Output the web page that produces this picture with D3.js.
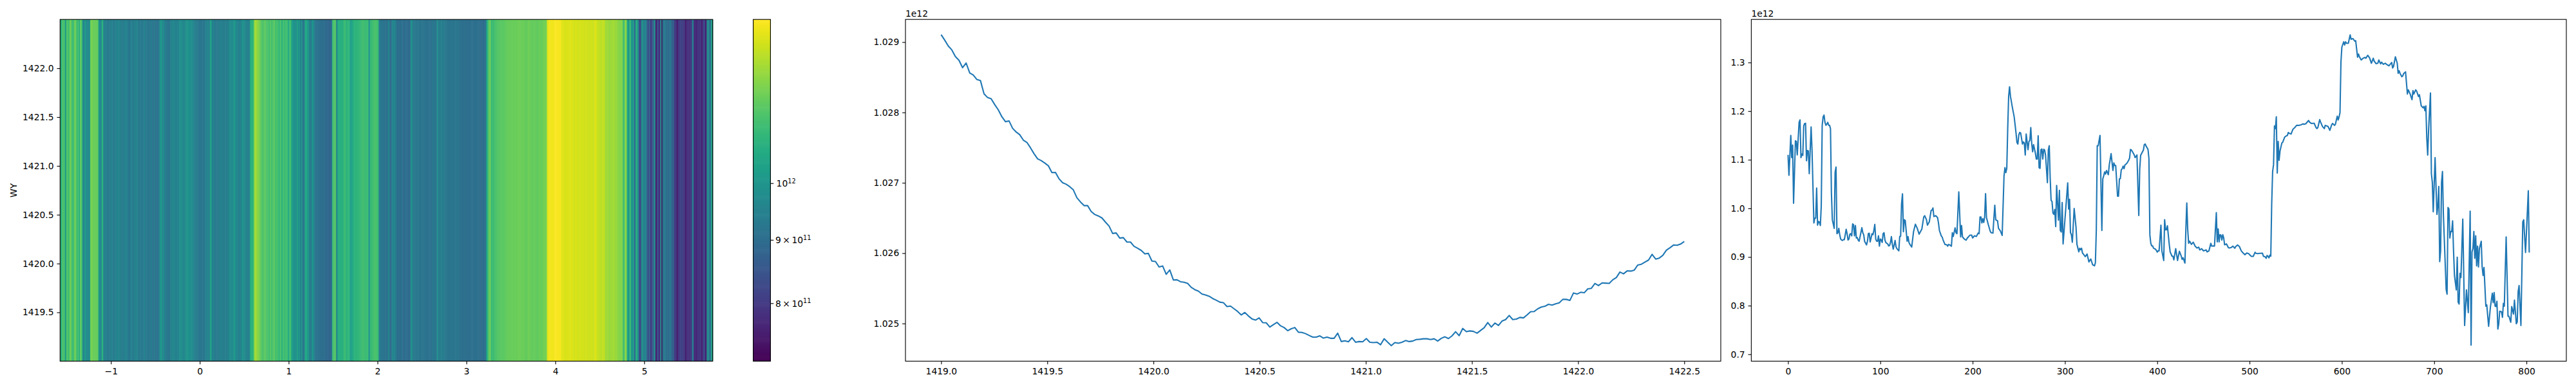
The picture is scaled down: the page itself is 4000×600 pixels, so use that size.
<!DOCTYPE html>
<html><head><meta charset="utf-8">
<script src="https://cdn.jsdelivr.net/npm/d3@7"></script>
<style>
html,body{margin:0;padding:0;background:#fff;}
svg{display:block;}
text{font-family:"DejaVu Sans";font-size:13.89px;fill:#000;}
</style></head><body>
<script>
// values of the narrow series, in units of 1e12
const smoothValues = [
1.029105,1.029028,1.028944,1.028888,1.028793,1.028741,1.028636,1.028702,1.028562,1.028531,1.028468,1.028454,1.028265,1.028212,1.028195,1.028111,1.028037,1.027939,1.027869,1.027880,
1.027775,1.027722,1.027684,1.027607,1.027575,1.027498,1.027414,1.027341,1.027316,1.027281,1.027243,1.027145,1.027148,1.027057,1.027001,1.026980,1.026945,1.026900,1.026788,1.026728,
1.026676,1.026676,1.026592,1.026550,1.026529,1.026501,1.026441,1.026385,1.026280,1.026287,1.026214,1.026221,1.026158,1.026158,1.026098,1.026070,1.026039,1.025990,1.025997,1.025888,
1.025881,1.025804,1.025818,1.025699,1.025762,1.025619,1.025622,1.025594,1.025587,1.025570,1.025514,1.025482,1.025461,1.025419,1.025405,1.025388,1.025356,1.025332,1.025304,1.025297,
1.025241,1.025248,1.025209,1.025171,1.025122,1.025157,1.025108,1.025066,1.025049,1.025080,1.025013,1.025010,1.024950,1.024985,1.025017,1.024968,1.024943,1.024898,
1.024926,1.024943,1.024877,1.024873,1.024856,1.024831,1.024807,1.024807,1.024825,1.024793,1.024807,1.024790,1.024790,1.024863,1.024744,1.024755,1.024741,1.024800,1.024734,1.024744,
1.024741,1.024786,1.024734,1.024730,1.024734,1.024699,1.024783,1.024734,1.024685,1.024730,1.024720,1.024734,1.024758,1.024744,1.024751,1.024772,1.024776,1.024783,1.024783,1.024772,
1.024783,1.024751,1.024790,1.024811,1.024786,1.024825,1.024884,1.024828,1.024930,1.024884,1.024895,1.024888,1.024863,1.024902,1.024940,1.025013,1.024950,1.025006,1.024972,1.025035,
1.025056,1.025115,1.025056,1.025063,1.025087,1.025080,1.025122,1.025168,1.025171,1.025209,1.025234,1.025245,1.025273,1.025262,1.025280,1.025294,1.025343,1.025343,1.025329,1.025434,
1.025419,1.025444,1.025437,1.025493,1.025500,1.025570,1.025539,1.025577,1.025574,1.025570,1.025622,1.025654,1.025731,1.025706,1.025748,1.025745,1.025759,1.025832,1.025843,1.025874,
1.025902,1.025983,1.025916,1.025930,1.025969,1.026042,1.026077,1.026116,1.026112,1.026130,1.026165];
const smoothStart = 1419, smoothEnd = 1422.5;

// [sample index, value in units of 1e12] vertices read from the wide series
const wavePoints = [
[0,1.110],[1,1.068],[3,1.150],[4,1.1045],[5,1.130],[6,1.0106],[8,1.139],[9,1.1376],[10,1.110],[12,1.177],[13,1.182],[14,1.1045],[15,1.112],[16,1.109],[17,1.1693],[18,1.1746],[19,1.175],[20,1.098],[21,1.119],[22,1.118],[23,1.0714],[25,1.1676],[26,1.120],[28,0.970],[29,0.980],[30,0.980],[31,1.042],[32,0.9656],[33,0.973],[34,0.972],[35,0.9647],[36,1.005],[37,1.1706],[38,1.188],[39,1.1918],[40,1.177],[41,1.171],[42,1.173],[43,1.177],[44,1.171],[45,1.171],[46,1.164],[47,1.032],[48,0.9766],[49,0.968],[50,0.959],[51,1.074],[52,1.085],[53,0.948],[54,0.950],[55,0.959],[56,0.946],[57,0.937],[58,0.935],[59,0.934],[60,0.9357],[61,0.9357],[62,0.946],[63,0.957],[64,0.948],[65,0.935],[66,0.937],[67,0.947],[68,0.948],[69,0.9436],[70,0.968],[71,0.9665],[72,0.9436],[73,0.9647],[74,0.9392],[75,0.940],[76,0.935],[77,0.9325],[78,0.9415],[80,0.9603],[81,0.950],[82,0.9458],[83,0.932],[85,0.925],[86,0.932],[87,0.948],[88,0.949],[89,0.931],[91,0.948],[92,0.9458],[93,0.9546],[94,0.967],[95,0.937],[96,0.9325],[97,0.9325],[98,0.9436],[99,0.9224],[100,0.937],[101,0.935],[102,0.930],[103,0.948],[104,0.950],[105,0.935],[106,0.9295],[107,0.9282],[108,0.927],[109,0.9228],[110,0.9237],[111,0.930],[112,0.942],[113,0.926],[114,0.9162],[116,0.934],[117,0.921],[118,0.917],[120,0.9127],[121,0.942],[122,0.943],[123,1.0097],[124,1.030],[125,0.952],[126,0.9766],[127,0.975],[129,0.9325],[130,0.942],[131,0.930],[132,0.926],[134,0.9206],
[136,0.9524],[138,0.9674],[140,0.959],[142,0.947],[145,0.9577],[147,0.9823],[148,0.985],[150,0.9766],[151,0.9656],[153,0.972],[155,0.9956],[156,0.9965],[157,1.0009],[158,0.9833],[160,0.985],[162,0.981],[163,0.970],[164,0.9546],[166,0.9436],[167,0.941],[168,0.935],[170,0.9259],[172,0.925],[173,0.9224],[174,0.9259],[175,0.925],[177,0.9224],[178,0.950],[179,0.9422],[181,0.960],[182,0.950],[183,0.948],[185,1.034],[187,0.9414],[188,0.9647],[189,0.9414],[191,0.937],[193,0.9347],[194,0.9383],[197,0.9449],[199,0.9449],[200,0.9392],[202,0.9436],[204,0.9422],[206,0.9493],[207,0.948],[208,0.9824],[209,0.9824],[210,0.970],[211,0.9788],[212,0.971],[213,0.982],[214,1.0304],[215,0.981],[217,0.9665],[219,0.9533],[220,0.950],[222,0.9493],[223,0.9788],[224,1.0066],[225,0.9766],[227,0.9744],[228,0.959],[230,0.9537],[232,0.9444],[234,1.067],[235,1.0838],[236,1.0736],[237,1.0825],[238,1.164],[239,1.2302],[240,1.250],[241,1.2302],[243,1.2081],[245,1.1883],[247,1.1552],[248,1.1354],[249,1.1323],[250,1.1508],[251,1.1561],[252,1.1552],[254,1.1323],[255,1.1367],[256,1.134],[257,1.1098],[258,1.153],[260,1.1208],[261,1.1376],[262,1.1398],[263,1.1662],[264,1.1332],[265,1.1164],[266,1.131],[268,1.1133],[269,1.1014],[270,1.1014],
[271,1.1495],[272,1.0838],[273,1.0825],[274,1.1209],[275,1.1222],[276,1.1015],[277,1.1217],[278,1.120],[279,1.109],[281,1.053],[282,1.120],[283,1.1288],[284,1.0626],[285,1.0164],[286,1.0142],[287,0.9908],[288,0.9877],[289,0.9978],[290,0.9626],[291,1.0472],[293,0.9758],[294,1.0371],[295,0.9546],[296,0.9515],[297,1.012],[298,0.9268],[303,1.0525],[304,0.9987],[305,1.0186],[306,0.9502],[307,0.9458],[308,0.9304],[310,0.9999],[312,0.9612],[313,0.926],[315,0.9105],[316,0.918],[317,0.915],[318,0.918],[319,0.9083],[322,0.9008],[324,0.9061],[326,0.8898],[328,0.896],[330,0.8841],[332,0.8819],[333,0.8885],[334,0.9568],[335,1.1288],[336,1.1288],[338,1.150],[340,0.9546],[341,1.0604],[342,1.067],[343,1.075],[344,1.0706],[345,1.078],[347,1.0693],[348,1.0891],[350,1.1125],[352,1.0781],[353,1.0935],[354,1.0882],[355,1.0882],[357,1.0252],[358,1.0252],[359,1.0604],[360,1.0613],[361,1.079],[362,1.0816],[363,1.0869],[364,1.0816],[365,1.0891],[367,1.0926],[369,1.0988],[370,1.1032],[371,1.1213],[372,1.120],[373,1.1169],[375,1.1103],[376,1.1045],[377,1.1067],[378,1.1098],[380,0.9855],[381,1.0803],[382,1.109],[385,1.120],[386,1.1314],[387,1.1323],[388,1.1279],[390,1.1213],[391,1.1023],[392,0.9458],[393,0.9282],[394,0.9229],[395,0.9229],[396,0.918],[398,0.9163],[399,0.9136],[400,0.9101],[401,0.9127],[402,0.9127],[404,0.9656],[405,0.9127],[407,0.8929],[408,0.9767],[409,0.956],[410,0.956],[411,0.9643],[413,0.926],[414,0.9105],[416,0.9017],[417,0.9017],[418,0.8942],[420,0.9172],[422,0.8929],[424,0.9119],[426,0.9017],[427,0.8951],[428,0.8986],[430,0.8876],[431,0.9568],[432,1.011],[433,0.9568],[434,0.9282],[435,0.9326],[437,0.926],[439,0.9304],[441,0.9224],[443,0.9185],[445,0.9202],[446,0.9145],[448,0.9172],[450,0.9127],[453,0.9145],[454,0.9105],[456,0.9127],[458,0.9282],[459,0.9224],[461,0.9229],[462,0.9224],[464,0.9912],[465,0.9313],[466,0.9577],[467,0.9313],[468,0.9458],[469,0.945],[470,0.9348],[471,0.9458],[472,0.9392],[473,0.9251],[475,0.9269],[477,0.9194],[478,0.9185],[480,0.9194],[482,0.9224],[484,0.918],[485,0.9215],[487,0.9246],[489,0.9215],[491,0.9127],[493,0.9083],[495,0.9048],[497,0.9083],[499,0.907],[501,0.9031],[502,0.9013],[504,0.9013],[506,0.9097],[507,0.9075],[509,0.907],[511,0.9075],[512,0.9075],[514,0.908],[515,0.9017],[517,0.9004],[518,0.8973],[519,0.9031],[520,0.9017],[521,0.8982],[522,0.904],[523,0.9017],[524,1.0097],[525,1.0759],[526,1.090],[527,1.1694],[528,1.1641],[529,1.1883],[530,1.0728],[531,1.1376],[532,1.0988],[533,1.1178],[535,1.1345],[536,1.1363],[538,1.1464],[539,1.1482],[541,1.150],[542,1.1561],[543,1.1544],[545,1.153],[547,1.1627],[549,1.1663],[551,1.1707],[553,1.1707],[556,1.172],[558,1.1738],[559,1.1729],[561,1.1742],[564,1.1808],[565,1.1773],[567,1.1746],[570,1.1751],[572,1.1663],[573,1.1641],[574,1.1663],[576,1.1826],[577,1.1773],[579,1.1685],[581,1.1641],[582,1.1707],[585,1.1685],[587,1.1605],[589,1.172],[590,1.1746],[592,1.1707],[593,1.1729],[595,1.1896],[596,1.1817],[597,1.1883],[598,1.1971],[599,1.3007],[600,1.3316],[602,1.3426],[603,1.336],[604,1.3426],[605,1.3395],[607,1.3395],[609,1.3567],[610,1.3479],[612,1.3492],[614,1.3439],[615,1.3448],[617,1.3109],[618,1.3175],[619,1.3118],[621,1.3052],[623,1.3087],[625,1.3104],[626,1.3087],[628,1.3148],[630,1.3096],[632,1.2985],[634,1.3087],[635,1.303],[637,1.2977],[639,1.2985],[640,1.3052],[642,1.2972],[643,1.3007],[645,1.2963],[647,1.2985],[649,1.2955],[651,1.2933],[654,1.300],[655,1.2888],[656,1.2919],[658,1.3118],[660,1.2985],[661,1.2778],[662,1.2831],[663,1.2778],[665,1.2708],[666,1.2725],[667,1.2775],[669,1.2808],[671,1.2352],[672,1.2438],[674,1.2352],[676,1.2235],[677,1.2423],[678,1.2352],[680,1.2438],[681,1.2413],[683,1.2301],[684,1.2337],[686,1.2109],[688,1.2068],[689,1.2099],[690,1.2008],[691,1.2109],[692,1.1451],[693,1.1096],[694,1.1628],[696,1.2372],[697,1.0716],[698,1.0539],[699,0.993],[701,1.1045],[703,0.9876],[704,1.0053],[705,1.045],[706,0.8906],[707,0.9127],[708,1.0538],[709,1.0758],[710,0.9876],[713,0.8333],[714,0.8236],[715,1.0018],[716,0.9987],[717,0.9391],[718,0.9524],[719,0.9524],[720,0.9744],[721,0.9127],[722,0.862],[724,0.8324],[725,0.8995],[726,0.8069],[727,0.8033],[728,0.8664],[729,0.8576],[731,0.978],[733,0.7592],[735,0.8324],[737,0.7857],[739,0.9943],[740,0.7187],[741,0.9105],[742,0.9171],[743,0.9524],[744,0.8973],[745,0.9435],[746,0.8818],[747,0.9224],[748,0.8796],[749,0.9171],[751,0.9325],[752,0.8796],[753,0.862],[754,0.8783],[756,0.7989],[757,0.8016],[759,0.7575],[761,0.7981],[763,0.8254],[764,0.806],[765,0.8267],[766,0.7989],[767,0.7981],[768,0.8091],[769,0.7518],[770,0.7628],[771,0.7884],[773,0.7871],[774,0.776],[775,0.8047],[776,0.7989],[778,0.9413],[780,0.7782],[781,0.7782],[783,0.7659],[784,0.7981],[786,0.7826],[787,0.8113],[789,0.7628],[790,0.7663],[791,0.8289],[792,0.8413],[794,0.7592],[796,0.9722],[797,0.9766],[799,0.9092],[802,1.0361],[803,0.9092]];

const heatXTicks = [-1,0,1,2,3,4,5];
const heatYTicks = [1419.5,1420,1420.5,1421,1421.5,1422];
const smoothXTicks = [1419,1419.5,1420,1420.5,1421,1421.5,1422,1422.5];
const smoothYTicks = [1.025,1.026,1.027,1.028,1.029];
const waveXTicks = [0,100,200,300,400,500,600,700,800];
const waveYTicks = [0.7,0.8,0.9,1.0,1.1,1.2,1.3];
const barTicks = [[0.8,"8","11"],[0.9,"9","11"],[1.0,null,"12"]];
const heatXDomain = [-1.572,5.771], heatYDomain = [1419,1422.5], sampleCount = 803;

const W=4000,H=600,TOP=30.2,BOT=561.4,TICK=4.86,PAD=4.86,LW=1.11;
const svg=d3.select("body").append("svg").attr("width",W).attr("height",H);
const minus=s=>s.replace("-","\u2212");

function axes(left,right,xs,ys,xt,yt,xf,yf){
  const g=svg.append("g");
  const ax=(sel)=>{sel.select(".domain").remove();sel.selectAll("line").attr("stroke","#000").attr("stroke-width",LW);sel.selectAll("text").attr("fill","#000").attr("font-family","DejaVu Sans").attr("font-size","13.89px");};
  g.append("g").attr("transform",`translate(0,${BOT})`).call(d3.axisBottom(xs).tickValues(xt).tickSize(TICK).tickPadding(PAD).tickFormat(xf)).call(ax).selectAll("text").attr("dy","0.79em");
  g.append("g").attr("transform",`translate(${left},0)`).call(d3.axisLeft(ys).tickValues(yt).tickSize(TICK).tickPadding(PAD).tickFormat(yf)).call(ax);
  g.append("rect").attr("x",left).attr("y",TOP).attr("width",right-left).attr("height",BOT-TOP).attr("fill","none").attr("stroke","#000").attr("stroke-width",LW);
}

// ---- heat map
const hL=93.3,hR=1106.7;
const hx=d3.scaleLinear().domain(heatXDomain).range([hL,hR]);
const hy=d3.scaleLinear().domain(heatYDomain).range([BOT,TOP]);
const sampleX=d3.scaleLinear().domain([0,sampleCount]).range(heatXDomain);
const waveVals=wavePoints.map(d=>d[1]);
const norm=d3.scaleLog().domain(d3.extent(waveVals)).range([0,1]);
const colour=v=>d3.interpolateViridis(norm(v));
const edges=wavePoints.map((d,i)=>{
  const next=wavePoints[i+1];
  return next? hx(sampleX((d[0]+next[0])/2+0.5)) : hR;
});
svg.append("g").selectAll("rect").data(wavePoints).join("rect")
  .attr("x",(d,i)=>i?edges[i-1]:hL)
  .attr("width",(d,i)=>edges[i]-(i?edges[i-1]:hL)+(i<wavePoints.length-1?0.6:0))
  .attr("y",hy(heatYDomain[1])).attr("height",hy(heatYDomain[0])-hy(heatYDomain[1]))
  .attr("fill",d=>colour(d[1]));
axes(hL,hR,hx,hy,heatXTicks,heatYTicks,d=>minus(String(d)),d3.format(".1f"));
svg.append("text").attr("transform",`translate(25.5,${(TOP+BOT)/2}) rotate(-90)`).attr("text-anchor","middle").text("WY");

// ---- colour bar
const cL=1169.6,cR=1196.4;
const cy=d3.scaleLog().domain(norm.domain()).range([BOT,TOP]);
const steps=d3.range(256);
const cStep=(BOT-TOP)/256;
svg.append("g").selectAll("rect").data(steps).join("rect")
  .attr("x",cL).attr("width",cR-cL).attr("y",d=>BOT-(d+1)*cStep).attr("height",cStep+0.6)
  .attr("fill",d=>d3.interpolateViridis((d+0.5)/256));
svg.append("rect").attr("x",cL).attr("y",TOP).attr("width",cR-cL).attr("height",BOT-TOP).attr("fill","none").attr("stroke","#000").attr("stroke-width",LW);
const bt=svg.append("g").selectAll("g").data(barTicks).join("g").attr("transform",d=>`translate(${cR},${cy(d[0])})`);
bt.append("line").attr("x2",TICK).attr("stroke","#000").attr("stroke-width",LW);
bt.each(function(d){
  const t=d3.select(this).append("text").attr("x",TICK+PAD-2+(d[1]?0:1.5)).attr("y",5);
  if(d[1]){t.append("tspan").text(d[1]);t.append("tspan").attr("dx",2.4).text("\u00D7");t.append("tspan").attr("dx",2.4).text("10");}
  else t.append("tspan").text("10");
  t.append("tspan").attr("dy",-5.6).attr("font-size","9.7px").text(d[2]);
});

// ---- smooth line
const sL=1406,sR=2672;
const sx=d3.scaleLinear().domain([1418.832,1422.672]).range([sL,sR]);
const sy=d3.scaleLinear().domain([1.024465,1.029322]).range([BOT,TOP]);
const sStep=d3.scaleLinear().domain([0,smoothValues.length-1]).range([smoothStart,smoothEnd]);
const sLine=d3.line().x((d,i)=>sx(sStep(i))).y(d=>sy(d));
svg.append("path").datum(smoothValues).attr("d",sLine).attr("fill","none").attr("stroke","#1f77b4").attr("stroke-width",2.08).attr("stroke-linejoin","round");
axes(sL,sR,sx,sy,smoothXTicks,smoothYTicks,d3.format(".1f"),d3.format(".3f"));
svg.append("text").attr("x",sL).attr("y",26).text("1e12");

// ---- wide line
const wL=2719.4,wR=3985;
const wx=d3.scaleLinear().domain([-39.8,843.2]).range([wL,wR]);
const wy=d3.scaleLinear().domain([0.6858,1.3886]).range([BOT,TOP]);
const wLine=d3.line().x(d=>wx(d[0])).y(d=>wy(d[1]));
svg.append("path").datum(wavePoints).attr("d",wLine).attr("fill","none").attr("stroke","#1f77b4").attr("stroke-width",2.08).attr("stroke-linejoin","round");
axes(wL,wR,wx,wy,waveXTicks,waveYTicks,d3.format("d"),d3.format(".1f"));
svg.append("text").attr("x",wL).attr("y",26).text("1e12");
</script>
</body></html>
